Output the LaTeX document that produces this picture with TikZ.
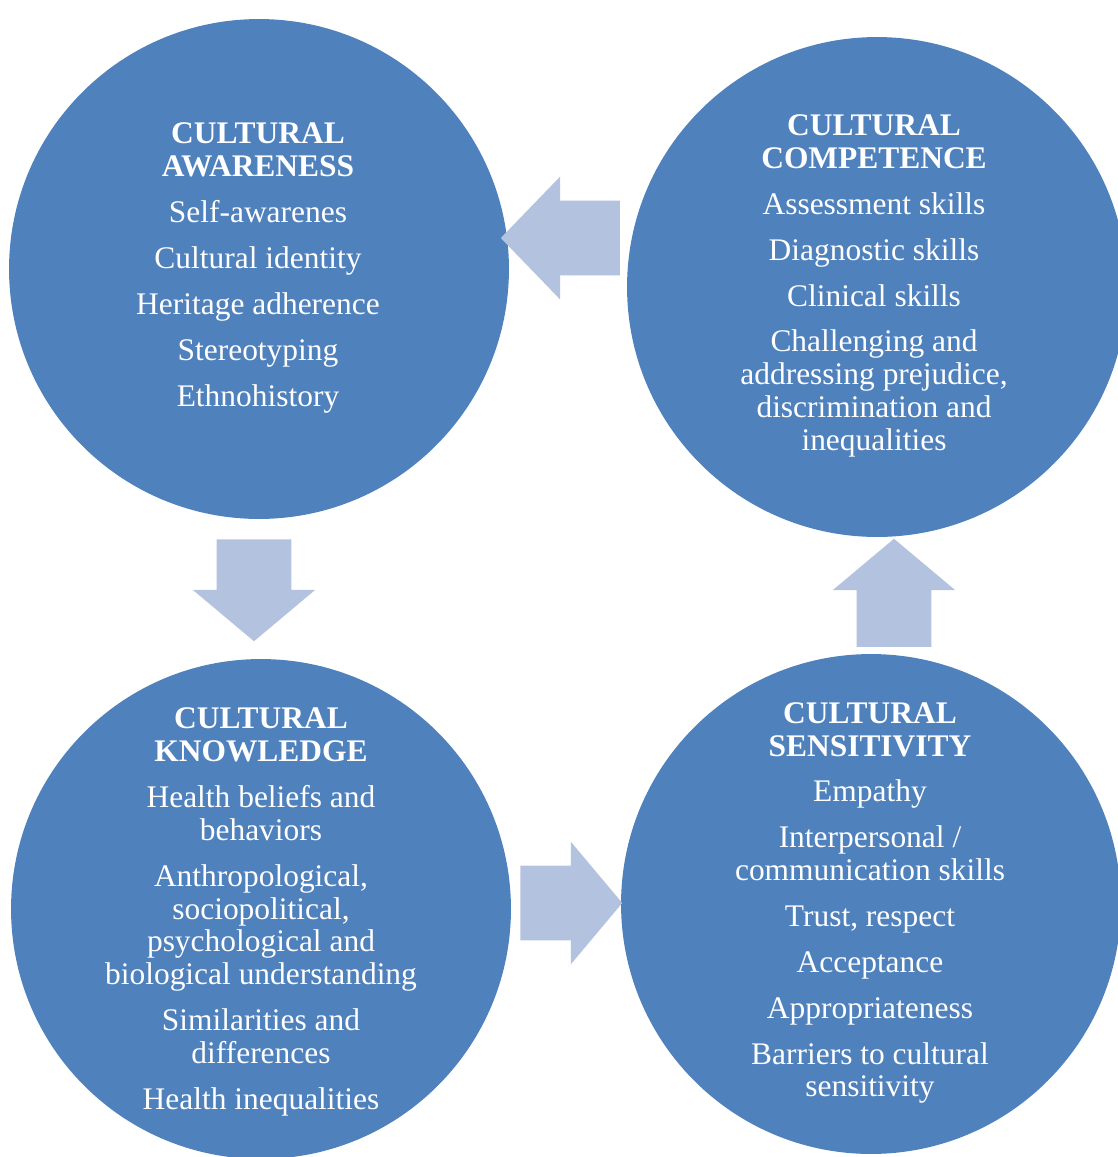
\documentclass[tikz,border=0pt]{standalone}
\usepackage{fontspec}
\setmainfont{Liberation Serif}
\usetikzlibrary{calc,shapes.arrows}
\definecolor{circblue}{HTML}{4F81BD}
\definecolor{arrowblue}{HTML}{B3C3DF}

\begin{document}
\begin{tikzpicture}[
    x=0.02cm, y=-0.02cm,
    stage/.style={circle, fill=circblue, minimum size=10cm, inner sep=0pt},
    stage text/.style={text=white, align=center,
        font=\fontsize{17.9}{18.7}\selectfont},
    big arrow/.style={single arrow, fill=arrowblue,
        single arrow head extend=0.48cm,
        single arrow tip angle=100, anchor=tip},
    flat arrow/.style={big arrow, inner xsep=0pt, inner ysep=0.74cm},
    tall arrow/.style={big arrow, inner xsep=0.74cm, inner ysep=0pt}
    ]
    \useasboundingbox (0,0) rectangle (1118,1157);
    % Circles
    \node[stage] (aware) at (259,269) {};
    \node[stage] (comp) at (877,287) {};
    \node[stage] (know) at (261,909) {};
    \node[stage] (sens) at (871,904) {};
    % Texts in the circles
    \node[stage text] (awaretext) at ($(aware.center)+(-1,-1)$)
        {\textbf{CULTURAL}\\\textbf{AWARENESS}\\[7.4pt]
        Self-awarenes\\[7.4pt] Cultural identity\\[7.4pt]
        Heritage adherence\\[7.4pt] Stereotyping\\[7.4pt] Ethnohistory};
    \node[stage text] (comptext) at ($(comp.center)+(-3,-1)$)
        {\textbf{CULTURAL}\\\textbf{COMPETENCE}\\[7.4pt]
        Assessment skills\\[7.4pt] Diagnostic skills\\[7.4pt]
        Clinical skills\\[7.4pt] Challenging and\\ addressing prejudice,\\
        discrimination and\\ inequalities};
    \node[stage text] (knowtext) at ($(know.center)+(0,3)$)
        {\textbf{CULTURAL}\\\textbf{KNOWLEDGE}\\[7.4pt]
        Health beliefs and\\ behaviors\\[7.4pt] Anthropological,\\
        sociopolitical,\\ psychological and\\ biological understanding\\[7.4pt]
        Similarities and\\ differences\\[7.4pt] Health inequalities};
    \node[stage text] (senstext) at ($(sens.center)+(-1,-1)$)
        {\textbf{CULTURAL}\\\textbf{SENSITIVITY}\\[7.4pt]
        Empathy\\[7.4pt] Interpersonal /\\ communication skills\\[7.4pt]
        Trust, respect\\[7.4pt] Acceptance\\[7.4pt] Appropriateness\\[7.4pt]
        Barriers to cultural\\ sensitivity};
    % Arrows between the circles
    \node[flat arrow, shape border rotate=180, single arrow tip angle=92,
        minimum height=2.38cm] (toaware) at ($(aware.east)+(-9,-31)$) {};
    \node[tall arrow, shape border rotate=270, minimum height=2.04cm] (toknow)
        at ($(know.north)+(-7,-17)$) {};
    \node[flat arrow, minimum height=2.04cm] (tosens)
        at ($(sens.west)+(2,-1)$) {};
    \node[tall arrow, shape border rotate=90, minimum height=2.16cm] (tocomp)
        at ($(comp.south)+(17,1)$) {};
\end{tikzpicture}
\end{document}
